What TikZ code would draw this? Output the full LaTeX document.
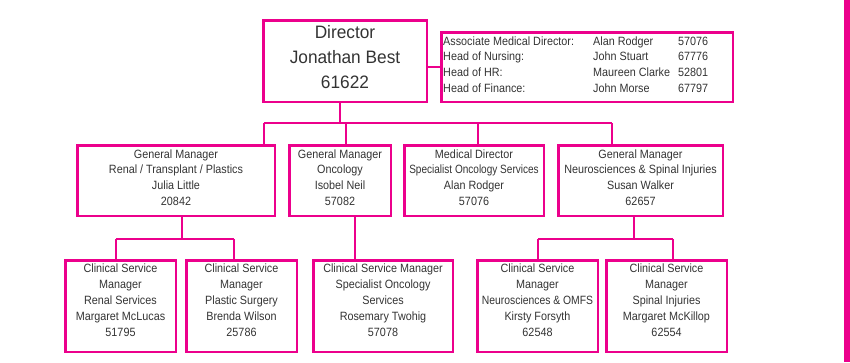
\documentclass[tikz,border=0pt]{standalone}
\usepackage{fontspec}
\setmainfont{Liberation Sans}[FakeStretch=0.9]
\newfontfamily\dirfont{Liberation Sans}[FakeStretch=0.96]
\definecolor{pinkline}{HTML}{EC008C}
\definecolor{txtgray}{HTML}{333333}
\begin{document}
\begin{tikzpicture}[x=1pt,y=-1pt,
  box/.style={draw=pinkline,line width=2.5pt,rectangle,inner sep=0pt},
  rowthree/.style={box,minimum height=91.5pt},
  rowtwo/.style={box,minimum height=70.5pt},
  lbl/.style={inner sep=0pt,align=center,text=txtgray,font=\fontsize{12}{15.7}\selectfont},
  lblthree/.style={lbl,font=\fontsize{12}{16}\selectfont,yshift=6pt},
  lbltwo/.style={lbl,yshift=3pt},
  conn/.style={draw=pinkline,line width=2.5pt}]
\useasboundingbox (0,0) rectangle (850,362);
% top
\node[box,minimum width=163.5pt,minimum height=81.5pt] (dir) at (345,61) {};
\node[lbl,font=\dirfont\fontsize{18}{25}\selectfont,yshift=4pt] (dirt) at (dir) {Director\\Jonathan Best\\61622};
\node[box,minimum width=291.5pt,minimum height=69.5pt] (info) at (587,67) {};
\node[anchor=west,inner sep=0pt,text=txtgray,font=\fontsize{12}{15.7}\selectfont] (infotext) at (443,65.5)
 {\begin{tabular}{@{}p{150pt}@{}p{85pt}@{}l@{}}
  Associate Medical Director: & Alan Rodger & 57076\\
  Head of Nursing: & John Stuart & 67776\\
  Head of HR: & Maureen Clarke & 52801\\
  Head of Finance: & John Morse & 67797
 \end{tabular}};
% row 2
\node[rowtwo,minimum width=197.5pt] (gm1) at (176,180.5) {};
\node[rowtwo,minimum width=101.5pt] (gm2) at (340,180.5) {};
\node[rowtwo,minimum width=139.5pt] (md) at (474,180.5) {};
\node[rowtwo,minimum width=164.5pt] (gm4) at (640.5,180.5) {};
\node[lbltwo] (gm1t) at (gm1) {General Manager\\Renal / Transplant / Plastics\\Julia Little\\20842};
\node[lbltwo] (gm2t) at (gm2) {General Manager\\Oncology\\Isobel Neil\\57082};
\node[lbltwo] (mdt) at (md) {Medical Director\\\scalebox{0.93}[1]{Specialist Oncology Services}\\Alan Rodger\\57076};
\node[lbltwo] (gm4t) at (gm4) {General Manager\\Neurosciences \& Spinal Injuries\\Susan Walker\\62657};
% row 3
\node[rowthree,minimum width=110.5pt] (c1) at (120.5,306) {};
\node[rowthree,minimum width=110.5pt] (c2) at (241.5,306) {};
\node[rowthree,minimum width=139.5pt] (c3) at (383,306) {};
\node[rowthree,minimum width=120.5pt] (c4) at (537.5,306) {};
\node[rowthree,minimum width=120.5pt] (c5) at (666.5,306) {};
\node[lblthree] (c1t) at (c1) {Clinical Service\\Manager\\Renal Services\\Margaret McLucas\\51795};
\node[lblthree] (c2t) at (c2) {Clinical Service\\Manager\\Plastic Surgery\\Brenda Wilson\\25786};
\node[lblthree] (c3t) at (c3) {Clinical Service Manager\\Specialist Oncology\\Services\\Rosemary Twohig\\57078};
\node[lblthree] (c4t) at (c4) {Clinical Service\\Manager\\\scalebox{0.96}[1]{Neurosciences \& OMFS}\\Kirsty Forsyth\\62548};
\node[lblthree] (c5t) at (c5) {Clinical Service\\Manager\\Spinal Injuries\\Margaret McKillop\\62554};
% connectors top
\draw[conn] (info.west) -- (info.west -| dir.east);
\coordinate (bA) at (340,123);
\coordinate (busL) at (264,123);
\coordinate (busR) at (612,123);
\coordinate (b2) at (346,123);
\coordinate (b3) at (478,123);
\draw[conn] (dir.south -| bA) -- (bA);
\draw[conn] (busL) -- (busR);
\draw[conn] (busL) -- (busL |- gm1.north);
\draw[conn] (b2) -- (b2 |- gm2.north);
\draw[conn] (b3) -- (b3 |- md.north);
\draw[conn] (busR) -- (busR |- gm4.north);
% row 3 connectors
\coordinate (s1) at (182,239);
\coordinate (l1) at (116,239);
\coordinate (r1) at (234,239);
\draw[conn] (gm1.south -| s1) -- (s1);
\draw[conn] (l1) -- (r1);
\draw[conn] (l1) -- (l1 |- c1.north);
\draw[conn] (r1) -- (r1 |- c2.north);
\coordinate (s2) at (355,239);
\draw[conn] (gm2.south -| s2) -- (s2 |- c3.north);
\coordinate (s4) at (634,239);
\coordinate (l4) at (538,239);
\coordinate (r4) at (673,239);
\draw[conn] (gm4.south -| s4) -- (s4);
\draw[conn] (l4) -- (r4);
\draw[conn] (l4) -- (l4 |- c4.north);
\draw[conn] (r4) -- (r4 |- c5.north);
% right edge bar
\fill[pinkline] (844,0) rectangle (850,362);
\end{tikzpicture}
\end{document}
